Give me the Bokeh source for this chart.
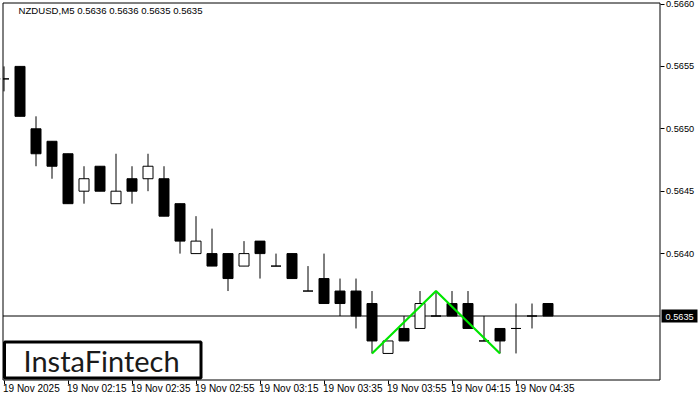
from bokeh.plotting import figure
from bokeh.models import (ColumnDataSource, FixedTicker, Range1d, Label,
                          BoxAnnotation, CustomJSTickFormatter)
from bokeh.embed import file_html
from bokeh.resources import INLINE

opens  = [.5654,.5655,.5650,.5649,.5648,.5645,.5647,.5644,.5646,.5646,.5646,.5644,.5640,.5640,.5640,.5639,.5641,.5639,.5640,.5637,.5638,.5637,.5637,.5636,.5632,.5634,.5634,.5635,.5636,.5636,.5633,.5634,.5634,.5635,.5636]
highs  = [.5655,.5655,.5651,.5649,.5648,.5647,.5647,.5648,.5647,.5648,.5647,.5644,.5643,.5642,.5640,.5641,.5641,.5640,.5640,.5639,.5640,.5638,.5638,.5637,.5633,.5635,.5637,.5637,.5637,.5637,.5635,.5634,.5636,.5636,.5636]
lows   = [.5653,.5651,.5647,.5646,.5644,.5644,.5645,.5644,.5644,.5645,.5643,.5640,.5640,.5639,.5637,.5639,.5638,.5639,.5638,.5637,.5636,.5635,.5634,.5632,.5632,.5633,.5634,.5635,.5635,.5634,.5633,.5632,.5632,.5634,.5635]
closes = [.5654,.5651,.5648,.5647,.5644,.5646,.5645,.5645,.5645,.5647,.5643,.5641,.5641,.5639,.5638,.5640,.5640,.5639,.5638,.5637,.5636,.5636,.5635,.5633,.5633,.5633,.5636,.5635,.5635,.5634,.5633,.5633,.5634,.5635,.5635]
bars = list(range(len(opens)))

tick_bars = [0, 4, 8, 12, 16, 20, 24, 28, 32]
tick_labels = ["19 Nov 2025", "19 Nov 02:15", "19 Nov 02:35", "19 Nov 02:55", "19 Nov 03:15",
               "19 Nov 03:35", "19 Nov 03:55", "19 Nov 04:15", "19 Nov 04:35"]
price_ticks = [.5640, .5645, .5650, .5655, .5660]
last_price = .5635
title_text = "NZDUSD,M5  0.5636 0.5636 0.5635 0.5635"
logo_text = "InstaFintech"
pattern_bars = [23, 27, 31]
pattern_prices = [.5632, .5637, .5632]

up = [c > o for o, c in zip(opens, closes)]
src = ColumnDataSource(dict(
    x=bars, high=highs, low=lows,
    top=[max(o, c) for o, c in zip(opens, closes)],
    bottom=[min(o, c) for o, c in zip(opens, closes)],
    fill=["white" if u else "black" for u in up],
))

W, H = 700, 400
BAR_PX = 16.0
PRICE_PX = 124800.0
BAR0_PX = 3.5
LAST_PX = 315.5
FRAME_L, FRAME_R, FRAME_T, FRAME_B = 2.5, 659.5, 2.5, 379.5

def xval(px):
    return (px - BAR0_PX) / BAR_PX

def yval(py):
    return last_price + (LAST_PX - py) / PRICE_PX

p = figure(width=W, height=H, output_backend="svg", toolbar_location=None,
           x_axis_location="below", y_axis_location="right",
           min_border_left=0, min_border_top=0, min_border_right=0, min_border_bottom=0,
           x_range=Range1d(xval(0), xval(W)), y_range=Range1d(yval(H), yval(0)))
p.grid.visible = False
p.outline_line_color = None
p.background_fill_color = "white"

FONT = "Liberation Sans"

xa = p.xaxis[0]
xa.fixed_location = yval(FRAME_B)
xa.ticker = FixedTicker(ticks=tick_bars)
xa.major_label_text_font_size = "0px"
xa.major_label_text_color = None
xa.major_tick_out = 4
xa.major_tick_in = 0
xa.minor_tick_out = 0
xa.minor_tick_in = 0
xa.axis_line_color = None
xa.major_tick_line_color = "black"
xa.major_label_standoff = 0

ya = p.yaxis[0]
ya.fixed_location = xval(FRAME_R)
ya.ticker = FixedTicker(ticks=price_ticks)
ya.formatter = CustomJSTickFormatter(code="return tick.toFixed(4)")
ya.major_label_text_font = FONT
ya.major_label_text_font_size = "9.2px"
ya.major_label_text_color = "black"
ya.major_tick_out = 4
ya.major_tick_in = 0
ya.minor_tick_out = 0
ya.minor_tick_in = 0
ya.axis_line_color = None
ya.major_tick_line_color = "black"
ya.major_label_standoff = 2

p.segment([xval(FRAME_L)], [last_price], [xval(FRAME_R)], [last_price],
          line_color="black", line_width=1, level="underlay")

p.segment("x", "high", "x", "low", source=src, line_color="black", line_width=1)
p.vbar("x", width=10 / BAR_PX, top="top", bottom="bottom", source=src,
       fill_color="fill", line_color="black", line_width=1)
p.line(pattern_bars, pattern_prices, line_color="#00e600", line_width=2.2)

# white strip left of the chart frame, then the frame itself
p.add_layout(BoxAnnotation(left=0, right=FRAME_L, top=H, bottom=0, left_units="screen", right_units="screen",
                           top_units="screen", bottom_units="screen", fill_color="white", fill_alpha=1,
                           line_color=None))
p.add_layout(BoxAnnotation(left=FRAME_L, right=FRAME_R, top=H - FRAME_T, bottom=H - FRAME_B,
                           left_units="screen", right_units="screen", top_units="screen", bottom_units="screen",
                           fill_color=None, line_color="black", line_alpha=1, line_width=1))

for tb, tl in zip(tick_bars, tick_labels):
    p.add_layout(Label(x=tb, y=7, y_units="screen", text=tl,
                       text_font=FONT, text_font_size="10px", text_color="black",
                       text_align="left", text_baseline="bottom", x_offset=-1))

p.add_layout(Label(x=18, y=H - 10, x_units="screen", y_units="screen", text=title_text, text_font=FONT,
                   text_font_size="9.6px", text_color="black", text_baseline="middle"))

p.add_layout(BoxAnnotation(left=4, right=200.5, top=H - 341.5, bottom=H - 377.5, left_units="screen", right_units="screen",
                           top_units="screen", bottom_units="screen", fill_color="white", fill_alpha=1,
                           line_color="black", line_alpha=1, line_width=3))
p.add_layout(Label(x=23, y=H - 360, x_units="screen", y_units="screen", text=logo_text, text_font="Lato",
                   text_font_size="29px", text_color="#1a1a1a", text_baseline="middle"))

p.add_layout(BoxAnnotation(left=661, right=697, top=H - 309, bottom=H - 322, left_units="screen", right_units="screen",
                           top_units="screen", bottom_units="screen", fill_color="black", fill_alpha=1,
                           line_color=None))
p.add_layout(Label(x=665, y=H - 316, x_units="screen", y_units="screen", text="%.4f" % last_price,
                   text_font=FONT, text_font_size="9.2px", text_color="white", text_baseline="middle"))

open("out.html", "w").write(file_html(p, INLINE))
